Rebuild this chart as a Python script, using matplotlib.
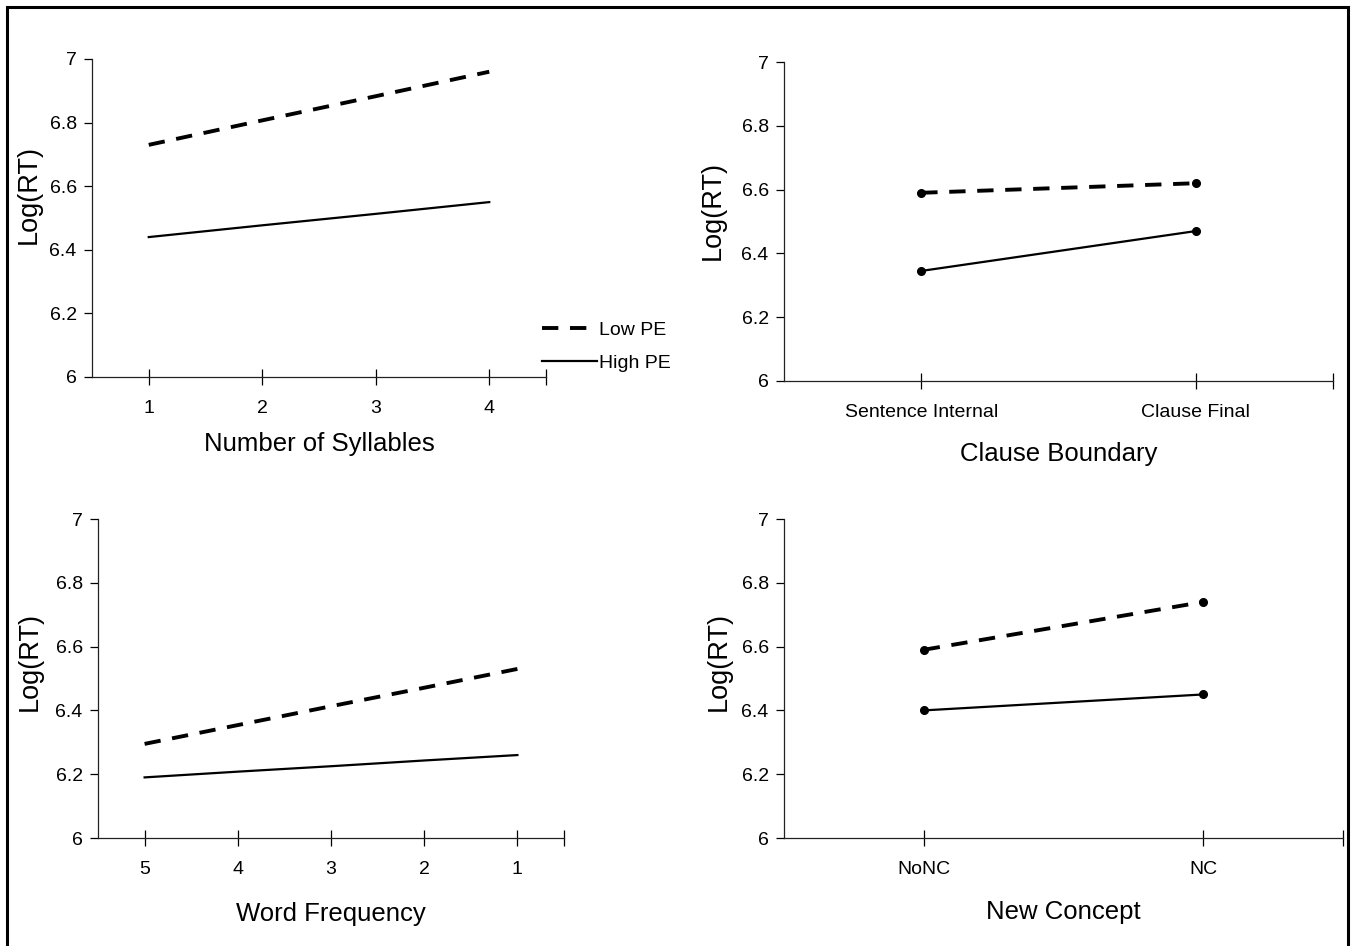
import matplotlib
matplotlib.use('Agg')
import matplotlib.pyplot as plt
from matplotlib.patches import Rectangle

plt.rcParams['font.family'] = ['Liberation Sans', 'DejaVu Sans']

# data
syllables = [1, 2, 3, 4]
syll_low = [6.73, 6.807, 6.883, 6.96]
syll_high = [6.44, 6.477, 6.513, 6.55]

clause_labels = ['Sentence Internal', 'Clause Final']
clause_low = [6.59, 6.62]
clause_high = [6.345, 6.47]

frequency = [5, 4, 3, 2, 1]
freq_low = [6.295, 6.354, 6.413, 6.471, 6.53]
freq_high = [6.19, 6.208, 6.225, 6.243, 6.26]

concept_labels = ['NoNC', 'NC']
concept_low = [6.59, 6.74]
concept_high = [6.40, 6.45]

yticks = [6, 6.2, 6.4, 6.6, 6.8, 7]
ytick_labels = ['6', '6.2', '6.4', '6.6', '6.8', '7']

DASH = dict(color='black', lw=2.8, dashes=(4.2, 3.0))
SOLID = dict(color='black', lw=1.6)

fig = plt.figure(figsize=(13.55, 9.46), dpi=100)
fig.patch.set_facecolor('white')


def style_axes(ax, xlim, xlabel, xlabelpad, ylab_pos):
    ax.set_xlim(*xlim)
    ax.set_ylim(6, 7)
    ax.set_yticks(yticks)
    ax.set_yticklabels(ytick_labels)
    for s in ['top', 'right']:
        ax.spines[s].set_visible(False)
    for s in ['left', 'bottom']:
        ax.spines[s].set_linewidth(0.9)
        ax.spines[s].set_color('#222222')
    ax.tick_params(axis='y', direction='out', length=6, width=0.9, labelsize=14, pad=5)
    ax.tick_params(axis='x', which='both', direction='inout', length=11, width=0.9,
                   labelsize=14, pad=11)
    # closing tick at the right end of the category axis
    ax.set_xticks([xlim[1]], minor=True)
    ax.set_ylabel('Log(RT)', fontsize=19.5)
    ax.yaxis.set_label_coords(*ylab_pos)
    ax.set_xlabel(xlabel, fontsize=18.5, labelpad=xlabelpad)


# panel 1: number of syllables
ax1 = fig.add_axes([92/1355, 1-377/946, 454/1355, 318/946])
ax1.plot(syllables, syll_low, label='Low PE', **DASH)
ax1.plot(syllables, syll_high, label='High PE', **SOLID)
style_axes(ax1, (0.5, 4.5), 'Number of Syllables', 11, (-0.110, 0.575))
ax1.set_xticks(syllables)
ax1.legend(loc='center left', bbox_to_anchor=(0.953, 0.095), frameon=False,
           fontsize=14, handlelength=2.8, handletextpad=0.1, labelspacing=0.78)

# panel 2: clause boundary
ax2 = fig.add_axes([784/1355, 1-381/946, 549/1355, 319/946])
xc = range(len(clause_labels))
ax2.plot(xc, clause_low, marker='o', ms=5.5, **DASH)
ax2.plot(xc, clause_high, marker='o', ms=5.5, **SOLID)
style_axes(ax2, (-0.5, 1.5), 'Clause Boundary', 15, (-0.107, 0.536))
ax2.set_xticks(list(xc))
ax2.set_xticklabels(clause_labels, fontsize=14)

# panel 3: word frequency (reversed)
ax3 = fig.add_axes([98/1355, 1-838/946, 466/1355, 319/946])
ax3.plot(frequency, freq_low, **DASH)
ax3.plot(frequency, freq_high, **SOLID)
style_axes(ax3, (5.5, 0.5), 'Word Frequency', 17, (-0.118, 0.552))
ax3.set_xticks(frequency)

# panel 4: new concept
ax4 = fig.add_axes([784/1355, 1-838/946, 559/1355, 319/946])
xn = range(len(concept_labels))
ax4.plot(xn, concept_low, marker='o', ms=5.5, **DASH)
ax4.plot(xn, concept_high, marker='o', ms=5.5, **SOLID)
style_axes(ax4, (-0.5, 1.5), 'New Concept', 16, (-0.093, 0.552))
ax4.set_xticks(list(xn))
ax4.set_xticklabels(concept_labels, fontsize=14)

# outer frame
fig.add_artist(Rectangle((7/1355, -0.02), 1341/1355, 1.02 - 7/946,
                         transform=fig.transFigure, fill=False,
                         edgecolor='black', lw=2.2))

fig.savefig('out.png', dpi=100)
